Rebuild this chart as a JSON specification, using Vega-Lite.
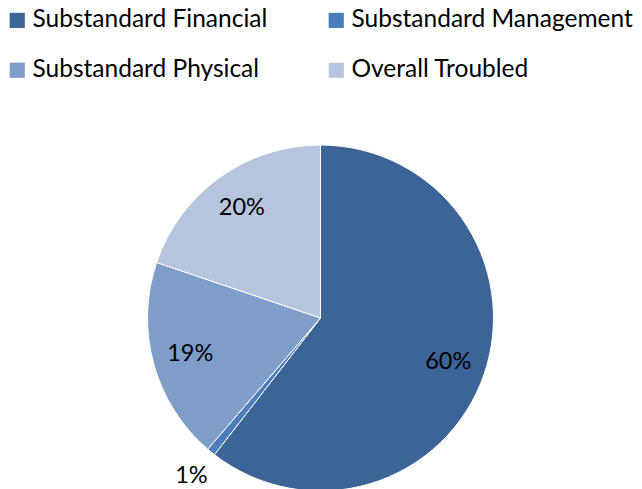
{
  "$schema": "https://vega.github.io/schema/vega-lite/v6.json",
  "width": 641,
  "height": 636,
  "padding": 0,
  "autosize": {"type": "none"},
  "background": "white",
  "config": {"view": {"stroke": null}, "font": "Lato"},
  "data": {
    "values": [
      {"category": "Substandard Financial", "value": 60.5, "label": "60%", "order": 1},
      {"category": "Substandard Management", "value": 0.8, "label": "1%", "order": 2},
      {"category": "Substandard Physical", "value": 18.9, "label": "19%", "order": 3},
      {"category": "Overall Troubled", "value": 19.8, "label": "20%", "order": 4}
    ]
  },
  "encoding": {
    "theta": {"field": "value", "type": "quantitative", "stack": true},
    "order": {"field": "order", "type": "quantitative"}
  },
  "layer": [
    {
      "mark": {"type": "arc", "outerRadius": 173, "stroke": "white", "strokeWidth": 1},
      "encoding": {
        "color": {
          "field": "category",
          "type": "nominal",
          "scale": {
            "domain": ["Substandard Financial", "Substandard Management", "Substandard Physical", "Overall Troubled"],
            "range": ["#3D6496", "#4A7EBB", "#7F9DC9", "#B7C4DE"]
          },
          "legend": {
            "orient": "none",
            "legendX": 5,
            "legendY": 8,
            "title": null,
            "columns": 2,
            "direction": "horizontal",
            "symbolType": "square",
            "symbolSize": 230,
            "symbolStrokeWidth": 0,
            "labelFontSize": 24.5,
            "labelFont": "Lato",
            "labelColor": "#000000",
            "labelOffset": 3,
            "columnPadding": 56,
            "rowPadding": 25,
            "padding": 0,
            "labelLimit": 400
          }
        }
      }
    },
    {
      "mark": {"type": "text", "fontSize": 23.5, "font": "Lato", "color": "#000000", "radius": 135},
      "encoding": {
        "text": {"condition": {"test": "datum.value >= 2", "field": "label"}, "value": ""}
      }
    },
    {
      "mark": {"type": "text", "fontSize": 23.5, "font": "Lato", "color": "#000000", "radius": 204},
      "encoding": {
        "text": {"condition": {"test": "datum.value < 2", "field": "label"}, "value": ""}
      }
    }
  ]
}
